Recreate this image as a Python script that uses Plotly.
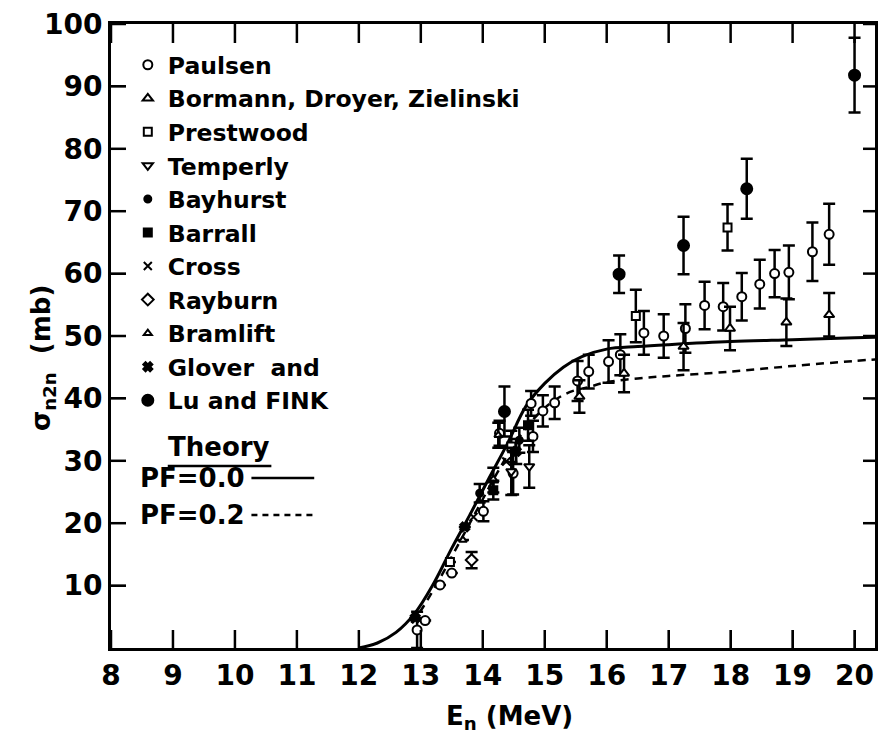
import plotly.graph_objects as go

# ---------------- data ----------------
# Theory curves
pf0_x = [12.0, 12.3, 12.6, 12.9, 13.2, 13.5, 13.8, 14.1, 14.4, 14.7, 15.0, 15.3, 15.6, 16.0, 16.5, 17.0, 18.0, 19.0, 20.0, 20.4]
pf0_y = [0.0, 0.8, 2.5, 5.5, 10.2, 16.0, 21.5, 27.2, 32.8, 38.8, 42.4, 45.0, 46.7, 47.9, 48.3, 48.6, 49.1, 49.4, 49.7, 49.8]
pf2_x = [12.85, 13.0, 13.3, 13.6, 13.9, 14.2, 14.5, 14.8, 15.1, 15.4, 15.7, 16.0, 16.5, 17.0, 18.0, 19.0, 20.0, 20.4]
pf2_y = [4.0, 6.0, 11.0, 16.5, 22.0, 27.5, 32.5, 36.5, 39.3, 41.0, 41.8, 42.6, 43.2, 43.6, 44.3, 45.2, 46.0, 46.3]

# Experimental series: energy (MeV), sigma (mb), error (mb)
paulsen_x = [12.94, 13.07, 13.31, 13.50, 14.01, 14.27, 14.49, 14.78, 14.81, 14.97, 15.16, 15.53, 15.71, 16.03,
             16.22, 16.60, 16.92, 17.27, 17.58, 17.88, 18.18, 18.47, 18.71, 18.94, 19.32, 19.59]
paulsen_y = [2.9, 4.4, 10.1, 12.0, 21.9, 34.4, 28.0, 39.2, 33.9, 38.0, 39.3, 42.8, 44.3, 45.9,
             47.0, 50.5, 50.0, 51.2, 54.9, 54.7, 56.3, 58.3, 60.0, 60.2, 63.5, 66.3]
paulsen_e = [2.9, None, None, None, 1.6, 2.0, 3.4, 2.0, 2.5, 2.5, 2.6, 3.2, 2.7, 3.4,
             3.3, 3.5, 3.5, 3.9, 3.8, 3.8, 3.8, 3.9, 3.8, 4.3, 4.7, 4.9]

bormann_x = [14.17, 15.56, 16.28, 17.24, 17.99, 18.90, 19.59]
bormann_y = [26.9, 40.3, 44.0, 48.3, 51.2, 52.2, 53.4]
bormann_e = [2.0, 2.6, 3.0, 3.8, 3.5, 3.8, 3.5]

prestwood_x = [13.47, 14.46, 16.47, 17.95]
prestwood_y = [13.8, 32.3, 53.2, 67.4]
prestwood_e = [None, 2.5, 4.2, 3.7]

temperly_x = [14.46, 14.75]
temperly_y = [28.3, 29.1]
temperly_e = [3.8, 3.4]

bayhurst_x = [13.95, 14.59]
bayhurst_y = [24.8, 33.3]
bayhurst_e = [1.5, 2.0]

barrall_x = [14.17, 14.73]
barrall_y = [25.3, 35.7]
barrall_e = [1.5, 2.5]

cross_x = [13.85, 14.38]
cross_y = [21.0, 29.9]

rayburn_x = [13.82]
rayburn_y = [14.1]
rayburn_e = [1.3]

bramlift_x = [13.68, 14.25]
bramlift_y = [17.3, 34.1]
bramlift_e = [None, 2.0]

glover_x = [12.91, 13.71, 14.54]
glover_y = [4.8, 19.4, 31.5]
glover_e = [None, None, 2.0]

lufink_x = [14.35, 16.20, 17.24, 18.26, 20.0]
lufink_y = [37.9, 59.9, 64.5, 73.6, 91.8]
lufink_e = [4.0, 3.0, 4.6, 4.8, 6.0]

x_ticks = [8, 9, 10, 11, 12, 13, 14, 15, 16, 17, 18, 19, 20]
y_ticks = [10, 20, 30, 40, 50, 60, 70, 80, 90, 100]
X_RANGE = [8, 20.33]
Y_RANGE = [0, 100]

# ---------------- figure ----------------
FONT = "DejaVu Sans"
fig = go.Figure()

fig.add_trace(go.Scatter(x=pf0_x, y=pf0_y, mode="lines", line=dict(color="black", width=3, shape="spline"),
                         showlegend=False, hoverinfo="skip"))
fig.add_trace(go.Scatter(x=pf2_x, y=pf2_y, mode="lines",
                         line=dict(color="black", width=2.5, dash="8px,6px", shape="spline"),
                         showlegend=False, hoverinfo="skip"))


def series(name, xs, ys, es, symbol, size=9, filled=False):
    marker = dict(symbol=symbol, size=size, color="black" if filled else "white",
                  line=dict(color="black", width=2))
    err = None
    if es is not None:
        err = dict(type="data", array=es, visible=True, color="black", thickness=2.5, width=6)
    fig.add_trace(go.Scatter(x=xs, y=ys, mode="markers", name=name, marker=marker, error_y=err))


series("Paulsen", paulsen_x, paulsen_y, paulsen_e, "circle")
series("Bormann, Droyer, Zielinski", bormann_x, bormann_y, bormann_e, "triangle-up")
series("Prestwood", prestwood_x, prestwood_y, prestwood_e, "square", size=8)
series("Temperly", temperly_x, temperly_y, temperly_e, "triangle-down")
series("Bayhurst", bayhurst_x, bayhurst_y, bayhurst_e, "circle", size=7, filled=True)
series("Barrall", barrall_x, barrall_y, barrall_e, "square", size=8, filled=True)
series("Cross", cross_x, cross_y, None, "x-thin", size=8, filled=True)
series("Rayburn", rayburn_x, rayburn_y, rayburn_e, "diamond", size=9)
series("Bramlift", bramlift_x, bramlift_y, bramlift_e, "triangle-up", size=7)
series("Glover  and", glover_x, glover_y, glover_e, "x", size=8, filled=True)
series("Lu and FINK", lufink_x, lufink_y, lufink_e, "circle", size=11, filled=True)

TICKFONT = dict(family=FONT, size=28, color="black", weight="bold")

fig.update_layout(
    width=879, height=733,
    margin=dict(l=111, r=1, t=24, b=85),
    paper_bgcolor="white", plot_bgcolor="white",
    font=dict(family=FONT, color="black"),
    showlegend=True,
    legend=dict(x=0.0220, y=0.9696, xanchor="left", yanchor="top",
                bgcolor="rgba(0,0,0,0)", borderwidth=0,
                font=dict(family=FONT, size=23.5, color="black", weight="bold")),
    xaxis=dict(range=X_RANGE, tickvals=x_ticks,
               ticks="inside", ticklen=18, tickwidth=2, tickcolor="black",
               showline=True, linecolor="black", linewidth=3, mirror=True,
               showgrid=False, zeroline=False, tickfont=TICKFONT),
    yaxis=dict(range=Y_RANGE, tickvals=y_ticks,
               ticks="inside", ticklen=15, tickwidth=2, tickcolor="black",
               showline=True, linecolor="black", linewidth=3, mirror=True,
               showgrid=False, zeroline=False, tickfont=TICKFONT),
)

# inward tick marks on all four sides, placed on the axis scales at the tick values
TICK_LINE = dict(color="black", width=2.5)
for v in x_ticks:
    # bottom (pointing up) and top (pointing down)
    fig.add_shape(type="line", xref="x", yref="paper", ysizemode="pixel", yanchor=0,
                  x0=v, x1=v, y0=0, y1=18, line=TICK_LINE, layer="above")
    fig.add_shape(type="line", xref="x", yref="paper", ysizemode="pixel", yanchor=1,
                  x0=v, x1=v, y0=0, y1=-19, line=TICK_LINE, layer="above")
for v in y_ticks:
    # left (pointing right) and right (pointing left)
    fig.add_shape(type="line", xref="paper", yref="y", xsizemode="pixel", xanchor=0,
                  x0=0, x1=15, y0=v, y1=v, line=TICK_LINE, layer="above")
    fig.add_shape(type="line", xref="paper", yref="y", xsizemode="pixel", xanchor=1,
                  x0=0, x1=-12, y0=v, y1=v, line=TICK_LINE, layer="above")

# axis titles
fig.add_annotation(xref="paper", yref="paper", x=-0.0887, y=0.465, xanchor="center", yanchor="middle",
                   text="σ<sub>n2n</sub>  (mb)", textangle=-90, showarrow=False,
                   font=dict(family=FONT, size=26, color="black", weight="bold"))
fig.add_annotation(xref="paper", yref="paper", x=0.5215, y=-0.1106, xanchor="center", yanchor="middle",
                   text="E<sub>n</sub> (MeV)", showarrow=False,
                   font=dict(family=FONT, size=26, color="black", weight="bold"))

# theory key
fig.add_annotation(xref="paper", yref="paper", x=0.1408, y=0.322, xanchor="center", yanchor="middle",
                   text="Theory", showarrow=False, font=dict(family=FONT, size=26, color="black", weight="bold"))
fig.add_shape(type="line", xref="paper", yref="paper", x0=0.0743, x1=0.2099, y0=0.2917, y1=0.2917,
              line=dict(color="black", width=2.5))
fig.add_annotation(xref="paper", yref="paper", x=0.0352, y=0.2724, xanchor="left", yanchor="middle",
                   text="PF=0.0", showarrow=False, font=dict(family=FONT, size=26, color="black", weight="bold"))
fig.add_shape(type="line", xref="paper", yref="paper", x0=0.1838, x1=0.266, y0=0.2724, y1=0.2724,
              line=dict(color="black", width=2.5))
fig.add_annotation(xref="paper", yref="paper", x=0.0352, y=0.2131, xanchor="left", yanchor="middle",
                   text="PF=0.2", showarrow=False, font=dict(family=FONT, size=26, color="black", weight="bold"))
fig.add_shape(type="line", xref="paper", yref="paper", x0=0.1838, x1=0.266, y0=0.2131, y1=0.2131,
              line=dict(color="black", width=2.5, dash="6px,5px"))

fig.write_html("out.html")
